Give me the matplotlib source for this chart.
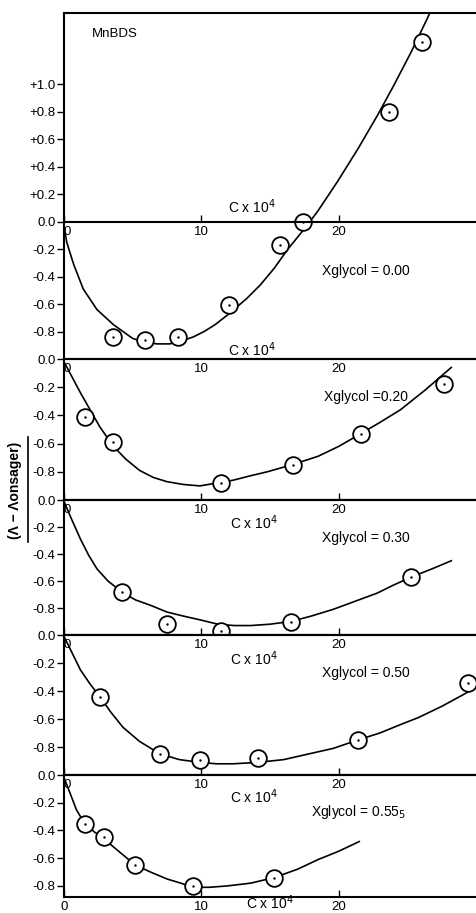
import numpy as np
import matplotlib.pyplot as plt
from matplotlib.lines import Line2D

plt.rcParams['font.family'] = ['Liberation Sans', 'DejaVu Sans']

### Data (C x 10^4 vs Lambda - Lambda_onsager)
glycol_labels = ["Xglycol = 0.00", "Xglycol =0.20", "Xglycol = 0.30",
                 "Xglycol = 0.50", "Xglycol = 0.55$_5$"]

# measured points
p1_x = [3.6, 5.9, 8.3, 12.0, 15.7, 17.4, 23.7, 26.1]
p1_y = [-0.84, -0.86, -0.84, -0.61, -0.17, 0.00, 0.80, 1.31]
p2_x = [1.5, 3.6, 11.4, 16.7, 21.6, 27.7]
p2_y = [-0.41, -0.59, -0.88, -0.75, -0.53, -0.18]
p3_x = [4.2, 7.5, 11.4, 16.5, 25.3]
p3_y = [-0.68, -0.92, -0.97, -0.90, -0.57]
p4_x = [2.6, 7.0, 9.9, 14.1, 21.4, 29.4]
p4_y = [-0.44, -0.85, -0.89, -0.88, -0.75, -0.34]
p5_x = [1.5, 2.9, 5.2, 9.4, 15.3]
p5_y = [-0.35, -0.45, -0.65, -0.80, -0.74]

# smooth fitted curves (traced)
c1_x = [0.0, 0.2, 0.7, 1.4, 2.4, 3.6, 5.0, 5.9, 6.8, 7.7, 8.5, 9.4, 10.2, 11.0, 11.9, 13.3,
        14.3, 15.3, 16.3, 17.6, 18.5, 19.9, 21.4, 22.8, 24.0, 25.3, 26.5, 27.0]
c1_y = [-0.03, -0.15, -0.31, -0.49, -0.64, -0.75, -0.85, -0.88, -0.89, -0.89, -0.87, -0.84,
        -0.80, -0.75, -0.68, -0.56, -0.46, -0.34, -0.20, -0.04, 0.08, 0.29, 0.53, 0.77, 0.99,
        1.24, 1.49, 1.60]
c2_x = [0.0, 0.6, 1.2, 1.9, 2.6, 3.6, 4.5, 5.5, 6.5, 7.5, 8.7, 9.9, 11.1, 12.3, 13.5, 14.8,
        16.6, 18.5, 20.0, 21.6, 23.0, 24.5, 26.3, 28.2]
c2_y = [-0.02, -0.13, -0.24, -0.36, -0.48, -0.62, -0.71, -0.79, -0.84, -0.87, -0.89, -0.90,
        -0.88, -0.86, -0.83, -0.80, -0.75, -0.69, -0.62, -0.53, -0.45, -0.36, -0.22, -0.06]
c3_x = [0.0, 0.5, 1.2, 1.8, 2.4, 3.2, 4.2, 5.2, 6.3, 7.5, 8.7, 10.0, 11.2, 12.4, 13.6, 15.0,
        16.5, 18.0, 19.6, 21.2, 22.8, 24.0, 25.3, 26.8, 28.2]
c3_y = [-0.01, -0.13, -0.29, -0.41, -0.51, -0.60, -0.68, -0.74, -0.78, -0.83, -0.86, -0.89,
        -0.92, -0.93, -0.93, -0.92, -0.90, -0.86, -0.81, -0.75, -0.69, -0.63, -0.57, -0.51, -0.45]
c4_x = [0.0, 0.6, 1.2, 1.9, 2.6, 3.4, 4.3, 5.5, 7.0, 8.4, 9.9, 11.1, 12.3, 14.1, 16.0, 17.8,
        19.6, 21.4, 23.0, 24.5, 25.8, 27.5, 29.0, 30.1]
c4_y = [-0.01, -0.13, -0.25, -0.35, -0.44, -0.55, -0.66, -0.76, -0.85, -0.89, -0.91, -0.92,
        -0.92, -0.91, -0.89, -0.85, -0.81, -0.75, -0.70, -0.64, -0.59, -0.51, -0.43, -0.37]
c5_x = [0.0, 0.4, 0.9, 1.5, 2.2, 2.9, 3.5, 4.1, 5.2, 6.3, 7.5, 8.5, 9.4, 10.6, 11.9, 13.6,
        15.3, 17.0, 18.5, 20.0, 21.5]
c5_y = [-0.02, -0.12, -0.25, -0.35, -0.41, -0.46, -0.51, -0.56, -0.65, -0.70, -0.75, -0.78,
        -0.81, -0.81, -0.80, -0.78, -0.74, -0.68, -0.61, -0.55, -0.48]

points = [(p1_x, p1_y), (p2_x, p2_y), (p3_x, p3_y), (p4_x, p4_y), (p5_x, p5_y)]
curves = [(c1_x, c1_y), (c2_x, c2_y), (c3_x, c3_y), (c4_x, c4_y), (c5_x, c5_y)]

top_yticks = [1.0, 0.8, 0.6, 0.4, 0.2, 0.0, -0.2, -0.4, -0.6, -0.8]
top_yticklabels = ["+1.0", "+0.8", "+0.6", "+0.4", "+0.2", "0.0", "-0.2", "-0.4", "-0.6", "-0.8"]
yticks = [0.0, -0.2, -0.4, -0.6, -0.8]
yticklabels = ["0.0", "-0.2", "-0.4", "-0.6", "-0.8"]
xticks = [0, 10, 20]
xticklabels = ["0", "10", "20"]

### Layout: stacked panels sharing their borders (pixel rows of the scan)
W, H = 476, 913
rows = [(13, 359), (359, 500), (500, 635), (635, 775), (775, 897)]
ylims = [(-1.0, 1.52), (-1.0, 0.0), (-1.0, 0.0), (-1.0, 0.0), (-0.88, 0.0)]
left = 64 / W

fig = plt.figure(figsize=(W / 100, H / 100), dpi=100)
axes = []
for i, (t, b) in enumerate(rows):
    ax = fig.add_axes([left, 1 - b / H, 1 - left, (b - t) / H])
    axes.append(ax)
    ax.set_xlim(0, 30)
    ax.set_ylim(*ylims[i])
    for s in ax.spines.values():
        s.set_linewidth(1.5)
    ax.spines['right'].set_visible(False)

    cx, cy = curves[i]
    ax.plot(cx, cy, 'k-', lw=1.2)
    px, py = points[i]
    ax.plot(px, py, 'o', ms=12, mfc='white', mec='k', mew=1.3)
    ax.plot(px, py, 'k.', ms=1.5)

    ax.set_xticks(xticks)
    ax.set_xticklabels(xticklabels)
    ax.tick_params(axis='x', direction='in', length=5, width=1, labelsize=9.5, pad=3)
    ax.tick_params(axis='y', direction='out', length=5, width=1, labelsize=9.5, pad=1)

    if i == 0:
        ax.set_yticks(top_yticks)
        ax.set_yticklabels(top_yticklabels)
        ax.spines['bottom'].set_position(('data', 0))
        ax.xaxis.get_major_ticks()[0].label1.set_horizontalalignment('left')
    else:
        ax.set_yticks(yticks)
        ax.set_yticklabels(yticklabels)
        ax.tick_params(axis='x', labelbottom=(i == 4))
        # tick labels sitting just under the shared top border
        sec = ax.secondary_xaxis('top')
        sec.set_xticks(xticks)
        sec.set_xticklabels(xticklabels)
        sec.tick_params(length=0, pad=-3, labelsize=9.5)
        sec.spines['top'].set_linewidth(1.5)
        for k, lab in enumerate(sec.get_xticklabels()):
            lab.set_verticalalignment('top')
            if k == 0:
                lab.set_horizontalalignment('left')

    # composition label
    if i == 4:
        ax.text(18.0, -0.27, glycol_labels[i], ha='left', va='center', fontsize=10)
    else:
        ax.text(22.0, [-0.36, -0.27, -0.28, -0.27][i], glycol_labels[i],
                ha='center', va='center', fontsize=10)

### Extra labels
cx_lab = "C x 10$^4$"
axes[0].text(2.0, 1.37, "MnBDS", ha='left', va='center', fontsize=9.5)
axes[0].text(13.7, 0.04, cx_lab, ha='center', va='bottom', fontsize=10)
axes[0].text(13.7, -0.93, cx_lab, ha='center', va='center', fontsize=10)
axes[2].text(13.8, -0.17, cx_lab, ha='center', va='center', fontsize=10)
axes[3].text(13.8, -0.17, cx_lab, ha='center', va='center', fontsize=10)
axes[4].text(13.8, -0.16, cx_lab, ha='center', va='center', fontsize=10)
fig.text(270 / W, 0.001, cx_lab, ha='center', va='bottom', fontsize=10)

fig.text(15 / W, 1 - 490 / H, "(Λ − Λonsager)", rotation=90, ha='center', va='center',
         fontsize=10, fontweight='bold')
fig.add_artist(Line2D([28 / W, 28 / W], [1 - 437 / H, 1 - 542 / H], color='k', lw=1.2))

fig.savefig("out.png", dpi=100)
